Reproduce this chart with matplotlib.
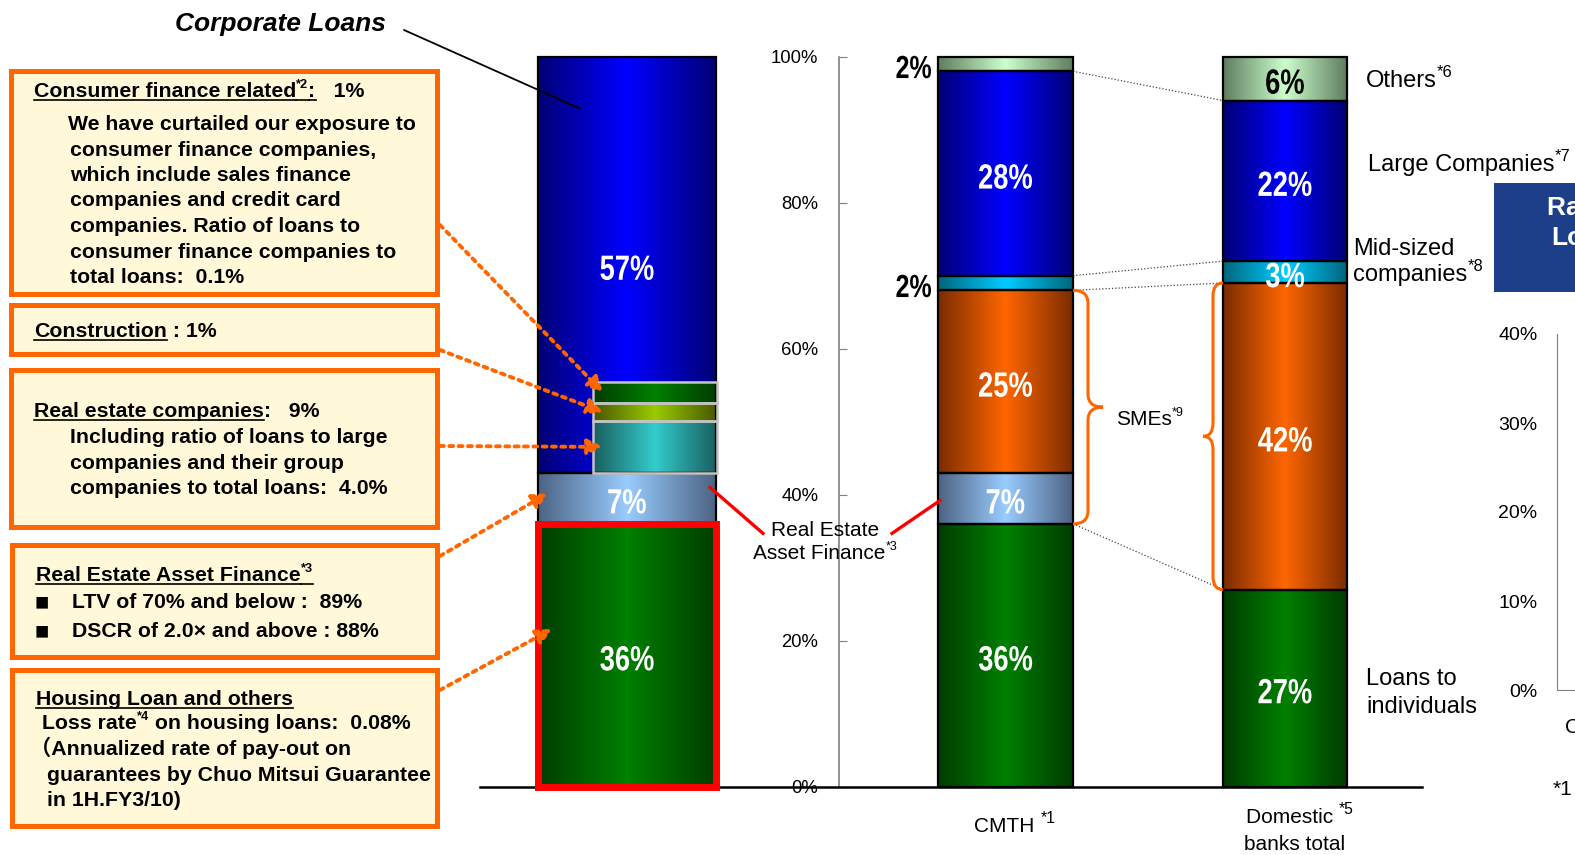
import numpy as np
import matplotlib
matplotlib.use('Agg')
import matplotlib.pyplot as plt
from matplotlib.colors import LinearSegmentedColormap
from matplotlib.patches import Rectangle, PathPatch
from matplotlib.path import Path
from matplotlib.lines import Line2D
from matplotlib.textpath import TextPath
from matplotlib.font_manager import FontProperties
from matplotlib.transforms import Affine2D

W, H = 1575, 855
SANS = ['Liberation Sans', 'DejaVu Sans', 'Noto Sans CJK JP']

# loan portfolio mix, % of total loans (bottom -> top)
corp_vals = [36, 7, 57]                 # housing & others, REAF, corporate loans
corp_sub_vals = [7.1, 2.4, 3.0]         # real estate cos, construction, consumer finance (inside corporate)
segments = ['Loans to individuals', 'Real Estate Asset Finance', 'SMEs',
            'Mid-sized companies', 'Large Companies', 'Others']
cmth_vals = [36, 7, 25, 2, 28, 2]
dom_vals = [27, 0, 42, 3, 22, 6]
yticks = [0, 20, 40, 60, 80, 100]
side_ticks = [0, 10, 20, 30, 40]

# gradient colours (edge, centre) per segment
seg_cols = [('#003c00', '#008000'), ('#4d6383', '#99ccff'), ('#7a2c00', '#ff6600'),
            ('#00667d', '#00ccff'), ('#000074', '#0000ff'), ('#5f7d5f', '#ccffcc')]
sub_cols = [('#1a5f5f', '#33cccc'), ('#4a5700', '#99cc00'), ('#003c00', '#008000')]

fig = plt.figure(figsize=(W / 100, H / 100), dpi=100)
ax = fig.add_axes([480 / W, (H - 786.7) / H, (1422 - 480) / W, 730 / H])
grad = np.linspace(0, 1, 256)[None, :]
bar_labels = []   # drawn once the axes limits are fixed


def gbar(x, w, bottom, h, cols, ec='black', lw=1.6):
    r = ax.bar(x, h, w, bottom=bottom, color=cols[1], edgecolor='none', zorder=2, clip_on=False)[0]
    cmap = LinearSegmentedColormap.from_list('g', [cols[0], cols[1], cols[0]])
    im = ax.imshow(grad, cmap=cmap, extent=(x - w / 2, x + w / 2, bottom, bottom + h),
                   aspect='auto', zorder=2.1, interpolation='bilinear', clip_on=False)
    im.set_clip_path(r)
    ax.bar(x, h, w, bottom=bottom, fill=False, edgecolor=ec, lw=lw, zorder=3, clip_on=False)


def narrow_label(x, y, s, color='white', size=35, ha='center', squeeze=0.78):
    # bold label squeezed horizontally, centred vertically on (x, y) in data coords
    tp = TextPath((0, 0), s, size=size, prop=FontProperties(family='Liberation Sans', weight='bold'))
    bb = tp.get_extents()
    X, Y = ax.transData.transform((x, y))
    w = bb.width * squeeze
    ox = X - w / 2 if ha == 'center' else X - w
    tr = Affine2D().translate(-bb.x0, -(bb.y0 + bb.height / 2)).scale(squeeze, 1).translate(ox, Y - 3)
    fig.add_artist(PathPatch(tp, fc=color, ec='none', transform=tr, zorder=5))


def put(x, y, parts, size=15.3, weight='bold', color='black', align='left', sup=0.6):
    # lays out text runs left to right at baseline y (image pixels), 's' = superscript, 'u' = underline
    ren = fig.canvas.get_renderer()
    em = size * 100 / 72
    items, spans, cx = [], [], 0.0
    for txt, kind in parts:
        is_sup = 's' in kind
        t = fig.text(0, 0, txt, fontsize=size * sup if is_sup else size, weight=weight,
                     color=color, family=SANS, ha='left', va='baseline')
        wpx = t.get_window_extent(ren).width
        items.append((t, cx, em * 0.42 if is_sup else 0))
        if 'u' in kind:
            spans.append((cx, cx + wpx))
        cx += wpx
    x0 = x - cx / 2 if align == 'center' else x
    for t, ox, dy in items:
        t.set_position(((x0 + ox) / W, 1 - (y - dy) / H))
    for a, b in spans:
        fig.add_artist(Line2D([(x0 + a) / W, (x0 + b) / W], [1 - (y + 3) / H] * 2,
                              color=color, lw=1.2, transform=fig.transFigure))


def brace(x0, y0, y1, d, r):
    xm, xt, ym = x0 + d / 2, x0 + d, (y0 + y1) / 2
    verts = [(x0, y0), (xm, y0), (xm, y0 + r), (xm, ym - r), (xm, ym), (xt, ym),
             (xm, ym), (xm, ym + r), (xm, y1 - r), (xm, y1), (x0, y1)]
    codes = [Path.MOVETO, Path.CURVE3, Path.CURVE3, Path.LINETO, Path.CURVE3, Path.CURVE3,
             Path.CURVE3, Path.CURVE3, Path.LINETO, Path.CURVE3, Path.CURVE3]
    ax.add_patch(PathPatch(Path(verts, codes), fc='none', ec='#ff6600', lw=2.2, zorder=4, clip_on=False))


# --- left bar: breakdown of CMTH loans
lx, lw_ = 627, 178
bottoms = np.concatenate([[0], np.cumsum(corp_vals)[:-1]])
for v, b, c in zip(corp_vals, bottoms, [seg_cols[0], seg_cols[1], seg_cols[4]]):
    gbar(lx, lw_, b, v, c)
sx, sw = 655, 124
sub_b = corp_vals[0] + corp_vals[1] + np.concatenate([[0], np.cumsum(corp_sub_vals)[:-1]])
for v, b, c in zip(corp_sub_vals, sub_b, sub_cols):
    gbar(sx, sw, b, v, c, ec='#c4c4c4', lw=1.8)
bar_labels.append((lx, corp_vals[0] / 2, f'{corp_vals[0]}%', 'white', 'center'))
bar_labels.append((lx, corp_vals[0] + corp_vals[1] / 2, f'{corp_vals[1]}%', 'white', 'center'))
bar_labels.append((lx, 100 - corp_vals[2] / 2, f'{corp_vals[2]}%', 'white', 'center'))
ax.add_patch(Rectangle((lx - lw_ / 2, 0), lw_, corp_vals[0], fill=False, ec='#ff0000',
                       lw=5, zorder=4, clip_on=False))

# --- CMTH and domestic banks
cx_, cw = 1005.5, 135
dx_, dw = 1285, 124
cb = np.concatenate([[0], np.cumsum(cmth_vals)[:-1]])
db = np.concatenate([[0], np.cumsum(dom_vals)[:-1]])
for i in range(len(segments)):
    gbar(cx_, cw, cb[i], cmth_vals[i], seg_cols[i])
    if dom_vals[i] > 0:
        gbar(dx_, dw, db[i], dom_vals[i], seg_cols[i])
for i in [0, 1, 2, 4]:
    bar_labels.append((cx_, cb[i] + cmth_vals[i] / 2, f'{cmth_vals[i]}%', 'white', 'center'))
for i in [3, 5]:
    bar_labels.append((cx_ - cw / 2 - 7, cb[i] + cmth_vals[i] / 2, f'{cmth_vals[i]}%', 'black', 'right'))
for i in [0, 2, 3, 4]:
    bar_labels.append((dx_, db[i] + dom_vals[i] / 2, f'{dom_vals[i]}%', 'white', 'center'))
bar_labels.append((dx_, db[5] + dom_vals[5] / 2, f'{dom_vals[5]}%', 'black', 'center'))

# dotted connectors between the two bars
cr, dl = cx_ + cw / 2, dx_ - dw / 2
for yc, yd in [(cb[5], db[5]), (cb[4], db[4]), (cb[3], db[3]), (cb[1], db[2])]:
    ax.plot([cr, dl], [yc, yd], color='#444444', lw=0.9, ls=(0, (1, 1.6)), zorder=1.5, clip_on=False)

# SME braces
brace(cr, cb[1], cb[3], 30, 1.8)
brace(dl, db[2], db[3], -20, 1.8)

# red callouts to Real Estate Asset Finance
ax.plot([710, 763], [41.0, 34.7], color='#ff0000', lw=2.4, zorder=4, clip_on=False)
ax.plot([892, 940], [34.7, 39.2], color='#ff0000', lw=2.4, zorder=4, clip_on=False)

# axes styling
ax.set_xlim(480, 1422)
ax.set_ylim(0, 100)
for s in ['top', 'right']:
    ax.spines[s].set_visible(False)
ax.spines['left'].set_position(('data', 839))
ax.spines['left'].set_color('#808080')
ax.spines['left'].set_linewidth(1.2)
ax.spines['bottom'].set_linewidth(1.8)
ax.set_xticks([])
ax.set_yticks(yticks)
ax.set_yticklabels([f'{t}%' for t in yticks], family=SANS)
ax.tick_params(axis='y', direction='in', length=6, color='#808080', labelsize=13.3, pad=15)
ax.patch.set_visible(False)

for x, y, s, c, ha in bar_labels:
    size = 32 if c == 'black' and ha == 'right' else 35
    narrow_label(x, y, s, color=c, size=size, ha=ha)

# corporate loans title and pointer
fig.text(280 / W, 1 - 24 / H, 'Corporate Loans', fontsize=19, weight='bold', style='italic',
         family=SANS, ha='center', va='center')
ax.annotate('', xy=(580, 92.9), xycoords='data', xytext=(404, H - 30), textcoords='figure pixels',
            arrowprops=dict(arrowstyle='-', color='black', lw=1.3, shrinkA=0, shrinkB=0),
            annotation_clip=False)

# note boxes on the left
boxes = [(11, 71, 437, 294), (11, 305, 437, 354), (11, 370, 437, 527),
         (12, 545, 437, 657), (12, 670, 437, 826)]
for x0, y0, x1, y1 in boxes:
    fig.add_artist(Rectangle((x0 / W, 1 - y1 / H), (x1 - x0) / W, (y1 - y0) / H,
                             transform=fig.transFigure, fc='#fff9da', ec='#ff6600', lw=3.6))

put(34, 97, [('Consumer finance related', 'u'), ('*2', 'su'), (':', 'u'), ('   1%', '')])
body1 = ['We have curtailed our exposure to', 'consumer finance companies,',
         'which include sales finance', 'companies and credit card',
         'companies. Ratio of loans to', 'consumer finance companies to', 'total loans:  0.1%']
for k, line in enumerate(body1):
    put(68 if k == 0 else 70, 130 + 25.5 * k, [(line, '')])

put(34, 337, [('Construction', 'u'), (' : 1%', '')])

put(34, 417, [('Real estate companies', 'u'), (':   9%', '')])
body3 = ['Including ratio of loans to large', 'companies and their group',
         'companies to total loans:  4.0%']
for k, line in enumerate(body3):
    put(70, 443 + 25.5 * k, [(line, '')])

put(36, 581, [('Real Estate Asset Finance', 'u'), ('*3', 'su')])
for k, line in enumerate(['LTV of 70% and below :  89%', 'DSCR of 2.0\u00d7 and above : 88%']):
    put(35, 609 + 29 * k, [('\u25a0', '')], size=17, weight='normal')
    put(72, 608 + 29 * k, [(line, '')])

put(36, 705, [('Housing Loan and others', 'u')])
put(42, 729, [('Loss rate', ''), ('*4', 's'), (' on housing loans:  0.08%', '')])
put(30, 755, [('\uff08Annualized rate of pay-out on', '')])
put(47, 781, [('guarantees by Chuo Mitsui Guarantee', '')])
put(47, 806, [('in 1H.FY3/10)', '')])

# dotted orange pointers from boxes to bar segments
sub_mid = sub_b + np.array(corp_sub_vals) / 2
targets = [((440, 225), (sx - sw / 2 + 10, sub_mid[2])),
           ((440, 350), (sx - sw / 2 + 10, sub_mid[1])),
           ((440, 446), (sx - sw / 2 + 10, sub_mid[0])),
           ((440, 556), (lx - lw_ / 2 + 10, corp_vals[0] + corp_vals[1] * 0.6)),
           ((440, 690), (lx - lw_ / 2 + 14, corp_vals[0] * 0.6))]
for (px, py), (tx, ty) in targets:
    ax.annotate('', xy=(tx, ty), xycoords='data', xytext=(px, H - py), textcoords='figure pixels',
                arrowprops=dict(arrowstyle='-|>,head_length=0.9,head_width=0.45', color='#ff6600',
                                lw=2.8, ls=(0, (1, 1.4)), shrinkA=0, shrinkB=0),
                annotation_clip=False, zorder=6)

# category and segment labels
put(825, 536, [('Real Estate', '')], size=15, weight='normal', align='center')
put(825, 559, [('Asset Finance', ''), ('*3', 's')], size=15, weight='normal', align='center')
put(1015, 832, [('CMTH ', ''), ('*1', 's')], size=15, weight='normal', align='center', sup=0.75)
put(1300, 823, [('Domestic ', ''), ('*5', 's')], size=15, weight='normal', align='center', sup=0.75)
put(1295, 850, [('banks total', '')], size=15, weight='normal', align='center')
put(1116, 425, [('SMEs', ''), ('*9', 's')], size=15, weight='normal')
put(1366, 87, [('Others', ''), ('*6', 's')], size=17, weight='normal', sup=0.7)
put(1368, 171, [('Large Companies', ''), ('*7', 's')], size=17, weight='normal', sup=0.7)
put(1353, 255, [('Mid-sized', '')], size=17, weight='normal')
put(1353, 281, [('companies', ''), ('*8', 's')], size=17, weight='normal', sup=0.7)
put(1366, 685, [('Loans to', '')], size=17, weight='normal')
put(1366, 713, [('individuals', '')], size=17, weight='normal')

# next panel, running off the right edge
fig.add_artist(Rectangle((1494 / W, 1 - 292 / H), 200 / W, 109 / H, transform=fig.transFigure,
                         fc='#1d3f8a', ec='none'))
fig.text(1547 / W, 1 - 208 / H, 'Ratio of', fontsize=19, weight='bold', color='white',
         family=SANS, ha='left', va='center')
fig.text(1551 / W, 1 - 238 / H, 'Loans', fontsize=19, weight='bold', color='white',
         family=SANS, ha='left', va='center')
ax2 = fig.add_axes([1557 / W, (H - 690) / H, 0.2, (690 - 334) / H])
ax2.set_ylim(0, 40)
ax2.set_xlim(0, 1)
ax2.set_yticks(side_ticks)
ax2.set_yticklabels([f'{t}%' for t in side_ticks], family=SANS)
ax2.set_xticks([0.12])
ax2.set_xticklabels(['CMTH'], family=SANS)
ax2.tick_params(length=0, labelsize=14, pad=14)
ax2.tick_params(axis='x', labelsize=15, pad=20)
for s in ['top', 'right']:
    ax2.spines[s].set_visible(False)
for s in ['left', 'bottom']:
    ax2.spines[s].set_color('#808080')
ax2.patch.set_visible(False)
fig.text(1553 / W, 1 - 789 / H, '*1', fontsize=15, family=SANS, ha='left', va='center')

fig.savefig('out.png', dpi=100)
